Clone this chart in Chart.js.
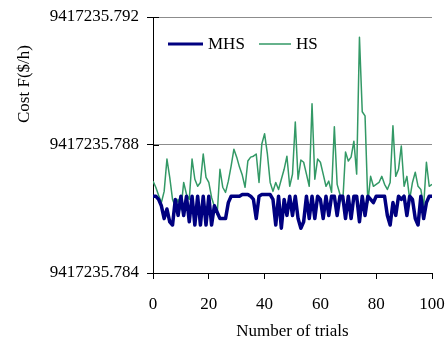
<!DOCTYPE html>
<html>
<head>
<meta charset="utf-8">
<script src="https://cdn.jsdelivr.net/npm/chart.js@4"></script>
<style>
  html, body { margin: 0; padding: 0; background: #fff; }
  #wrap { width: 445px; height: 344px; }
</style>
</head>
<body>
<div id="wrap"><canvas id="cchart" width="445" height="344"></canvas></div>
<script>
const trials = Array.from({ length: 101 }, (_, i) => i);

const mhs = [
  9417235.7864, 9417235.7864, 9417235.7863, 9417235.7861, 9417235.7857, 9417235.7860, 9417235.7856, 9417235.7855, 9417235.7863, 9417235.7858,
  9417235.7864, 9417235.7858, 9417235.7864, 9417235.7856, 9417235.7864, 9417235.7855, 9417235.7864, 9417235.7855, 9417235.7864, 9417235.7855,
  9417235.7864, 9417235.7855, 9417235.7861, 9417235.7859, 9417235.7857, 9417235.7857, 9417235.7857, 9417235.7862, 9417235.7864, 9417235.7864,
  9417235.7864, 9417235.7864, 9417235.78645, 9417235.78645, 9417235.78645, 9417235.7864, 9417235.7863, 9417235.7857, 9417235.7864, 9417235.78645,
  9417235.78645, 9417235.78645, 9417235.78645, 9417235.7863, 9417235.7855, 9417235.7864, 9417235.7854, 9417235.7863, 9417235.7858, 9417235.7864,
  9417235.7858, 9417235.7864, 9417235.7857, 9417235.7854, 9417235.7856, 9417235.7864, 9417235.7857, 9417235.7864, 9417235.7857, 9417235.7864,
  9417235.7863, 9417235.7857, 9417235.7864, 9417235.7858, 9417235.7864, 9417235.7864, 9417235.7858, 9417235.7864, 9417235.7864, 9417235.7857,
  9417235.7864, 9417235.7857, 9417235.7864, 9417235.7864, 9417235.7856, 9417235.7864, 9417235.7858, 9417235.7864, 9417235.7863, 9417235.7862,
  9417235.7864, 9417235.7864, 9417235.7864, 9417235.7864, 9417235.7858, 9417235.7855, 9417235.7862, 9417235.7858, 9417235.7864, 9417235.7863,
  9417235.7864, 9417235.7858, 9417235.7864, 9417235.7863, 9417235.7857, 9417235.7855, 9417235.7864, 9417235.7857, 9417235.7862, 9417235.7864,
  9417235.7864
];

const hs = [
  9417235.78687, 9417235.78668, 9417235.78643, 9417235.78620, 9417235.78655, 9417235.78756, 9417235.78699, 9417235.78630, 9417235.78608, 9417235.78630,
  9417235.78598, 9417235.78683, 9417235.78646, 9417235.78630, 9417235.78756, 9417235.78693, 9417235.78671, 9417235.78683, 9417235.78772, 9417235.78699,
  9417235.78683, 9417235.78636, 9417235.78608, 9417235.78583, 9417235.78724, 9417235.78668, 9417235.78652, 9417235.78687, 9417235.78734, 9417235.78787,
  9417235.78762, 9417235.78731, 9417235.78706, 9417235.78668, 9417235.78750, 9417235.78762, 9417235.78765, 9417235.78772, 9417235.78683, 9417235.78803,
  9417235.78835, 9417235.78772, 9417235.78683, 9417235.78655, 9417235.78683, 9417235.78661, 9417235.78693, 9417235.78724, 9417235.78765, 9417235.78671,
  9417235.78709, 9417235.78872, 9417235.78693, 9417235.78753, 9417235.78746, 9417235.78709, 9417235.78671, 9417235.78929, 9417235.78693, 9417235.78756,
  9417235.78746, 9417235.78709, 9417235.78671, 9417235.78687, 9417235.78652, 9417235.78857, 9417235.78677, 9417235.78646, 9417235.78620, 9417235.78778,
  9417235.78750, 9417235.78762, 9417235.78812, 9417235.78709, 9417235.79137, 9417235.78904, 9417235.78891, 9417235.78620, 9417235.78702, 9417235.78671,
  9417235.78677, 9417235.78683, 9417235.78702, 9417235.78677, 9417235.78661, 9417235.78683, 9417235.78860, 9417235.78702, 9417235.78724, 9417235.78797,
  9417235.78671, 9417235.78702, 9417235.78630, 9417235.78683, 9417235.78715, 9417235.78671, 9417235.78661, 9417235.78608, 9417235.78746, 9417235.78671,
  9417235.78677
];

const yTicks = [9417235.784, 9417235.788, 9417235.792];
const xTicks = [0, 20, 40, 60, 80, 100];

const FONT = "'Liberation Serif', 'Times New Roman', serif";
const NAVY = '#000080';
const GREEN = '#339966';

// legend, y title and the inner half of the y ticks drawn by hand
const extras = {
  id: 'extras',
  afterDraw(chart) {
    const c = chart.ctx;
    const ys = chart.scales.y;
    c.save();
    c.strokeStyle = '#000';
    c.lineWidth = 1;
    yTicks.forEach((v) => {
      const p = Math.round(ys.getPixelForValue(v)) + 0.5;
      c.beginPath(); c.moveTo(ys.right, p); c.lineTo(ys.right + 6, p); c.stroke();
    });

    c.font = '17px ' + FONT;
    c.fillStyle = '#000';
    c.textBaseline = 'middle';
    c.textAlign = 'left';

    c.strokeStyle = NAVY;
    c.lineWidth = 3;
    c.beginPath(); c.moveTo(168, 44); c.lineTo(203, 44); c.stroke();
    c.fillText(chart.data.datasets[0].label, 208, 45);

    c.strokeStyle = GREEN;
    c.lineWidth = 1.5;
    c.beginPath(); c.moveTo(259, 44); c.lineTo(291, 44); c.stroke();
    c.fillText(chart.data.datasets[1].label, 296, 45);

    c.translate(25, 84);
    c.rotate(-Math.PI / 2);
    c.textAlign = 'center';
    c.fillText('Cost F($/h)', 0, 0);
    c.restore();
  }
};

Chart.defaults.font.family = FONT;
Chart.defaults.font.size = 17;
Chart.defaults.color = '#000';

new Chart(document.getElementById('cchart'), {
  type: 'line',
  data: {
    datasets: [
      {
        label: 'MHS',
        data: trials.map((t, i) => ({ x: t, y: mhs[i] })),
        borderColor: NAVY,
        borderWidth: 3.5,
        borderJoinStyle: 'round',
        borderCapStyle: 'round',
        pointRadius: 0,
        tension: 0,
        fill: false,
      },
      {
        label: 'HS',
        data: trials.map((t, i) => ({ x: t, y: hs[i] })),
        borderColor: GREEN,
        borderWidth: 1.5,
        borderJoinStyle: 'round',
        pointRadius: 0,
        tension: 0,
        fill: false,
      },
    ],
  },
  options: {
    responsive: false,
    animation: false,
    layout: { padding: { left: 0, right: 13, top: 17, bottom: 0 } },
    plugins: {
      legend: { display: false },
      tooltip: { enabled: false },
    },
    scales: {
      x: {
        type: 'linear',
        min: 0,
        max: 100,
        afterBuildTicks: (s) => { s.ticks = xTicks.map(v => ({ value: v })); },
        afterFit: (s) => { s.height = 71; s.paddingLeft = 0; s.paddingRight = 0; },
        border: { color: '#000', width: 1 },
        grid: { drawOnChartArea: false, tickLength: 6, tickColor: '#000' },
        ticks: { padding: 15, maxRotation: 0 },
        title: { display: true, text: 'Number of trials', padding: { top: 0, bottom: 2 } },
      },
      y: {
        min: yTicks[0],
        max: yTicks[yTicks.length - 1],
        afterBuildTicks: (s) => { s.ticks = yTicks.map(v => ({ value: v })); },
        afterFit: (s) => { s.width = 153; s.paddingTop = 0; s.paddingBottom = 0; },
        border: { color: '#000', width: 1 },
        grid: {
          color: (ctx) => (ctx.tick && ctx.tick.value === yTicks[0] ? 'rgba(0,0,0,0)' : '#8c8c8c'),
          tickColor: '#000',
          tickLength: 6,
        },
        ticks: { padding: 8, callback: (v) => Number(v).toFixed(3) },
      },
    },
  },
  plugins: [extras],
});
</script>
</body>
</html>
